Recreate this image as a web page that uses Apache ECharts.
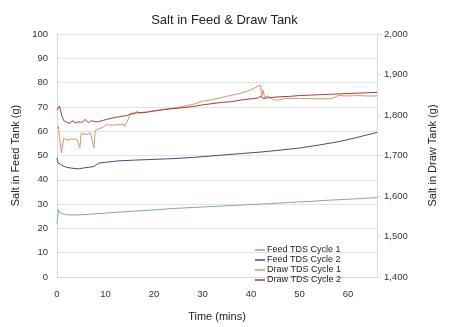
<!DOCTYPE html>
<html>
<head>
<meta charset="utf-8">
<script src="https://cdn.jsdelivr.net/npm/echarts@6/dist/echarts.min.js"></script>
<style>
  html, body { margin: 0; padding: 0; background: #fff; }
  #chart { width: 449px; height: 327px; }
</style>
</head>
<body>
<div id="chart"></div>
<script>
// feed tank, left axis (g)
var feed1Time = [0, 0.3, 0.6, 1, 1.4, 2, 3.1, 5, 8, 12, 16, 20, 24, 28, 32, 36, 40, 44, 48, 52, 56, 60, 63, 66];
var feed1Vals = [22, 27.8, 26.5, 26.2, 25.9, 25.6, 25.5, 25.6, 26, 26.6, 27.1, 27.6, 28.2, 28.6, 29, 29.4, 29.8, 30.2, 30.7, 31.1, 31.6, 32, 32.3, 32.7];

var feed2Time = [0, 0.2, 0.5, 1, 2, 3, 4.5, 5.5, 6.5, 7.6, 8.6, 10, 12.7, 16, 20, 23.7, 28, 33.6, 38, 41.9, 46, 50.1, 54, 58.4, 62, 66];
var feed2Vals = [49, 47, 46.3, 46, 45.1, 44.8, 44.5, 44.9, 45.1, 45.5, 46.9, 47.2, 47.8, 48.1, 48.4, 48.7, 49.2, 50.1, 50.8, 51.4, 52.2, 53.1, 54.3, 55.8, 57.5, 59.5];

// draw tank, right axis (g)
var draw1Time = [0, 0.3, 0.5, 0.9, 1.4, 2.1, 3, 4.1, 4.7, 5, 5.4, 6.2, 6.9, 7.6, 7.9, 9.3, 10.2, 11.5, 12.7, 13.7,
  13.9, 14.5, 15.1, 16, 16.4, 17, 18.5, 20, 22, 25, 28, 30, 32, 35, 38, 40, 42, 42.2, 42.5, 42.8,
  43.5, 44.5, 45.5, 47, 50, 53, 56, 57, 58, 60, 62, 64, 66];
var draw1Vals = [1767, 1772, 1747, 1707, 1742, 1738, 1741, 1740, 1719, 1754, 1750, 1752, 1756, 1719, 1762, 1769, 1776, 1775, 1776, 1778,
  1772, 1784, 1802, 1803, 1810, 1804, 1807, 1810, 1814, 1819, 1826, 1834, 1838, 1846, 1854, 1862, 1874, 1844, 1862, 1843,
  1847, 1838, 1836, 1841, 1841, 1840, 1840, 1842, 1848, 1847, 1848, 1847, 1847];

var draw2Time = [0, 0.5, 1, 1.4, 2, 2.6, 3.1, 3.8, 4.5, 5.2, 5.8, 6.5, 7.1, 7.6, 8.3, 9.3, 10.5, 12, 13, 14.5,
  15.5, 17, 18.5, 20, 22, 24, 26, 28, 30, 32, 34, 36, 38, 40, 41.5, 42, 42.5, 44, 46, 48,
  50, 52, 54, 56, 58, 60, 62, 64, 66];
var draw2Vals = [1812, 1822, 1798, 1786, 1782, 1779, 1786, 1781, 1783, 1782, 1789, 1781, 1786, 1784, 1783, 1786, 1790, 1794, 1796, 1799,
  1804, 1806, 1807, 1810, 1813, 1816, 1818, 1821, 1825, 1828, 1831, 1833, 1837, 1840, 1842, 1846, 1841, 1843, 1845, 1846,
  1848, 1849, 1850, 1851, 1852, 1853, 1854, 1855, 1856];

var seriesNames = ['Feed TDS Cycle 1', 'Feed TDS Cycle 2', 'Draw TDS Cycle 1', 'Draw TDS Cycle 2'];
var colors = ['#7aa8be', '#3d4f80', '#d4946e', '#a83a38'];

function pairs(t, v) {
    return t.map(function (x, i) { return [x, v[i]]; });
}

var font = 'Liberation Sans, Arial, sans-serif';
var myChart = echarts.init(document.getElementById('chart'));

var option = {
    color: colors,
    animation: false,
    title: {
        text: 'Salt in Feed & Draw Tank',
        left: 'center',
        top: 9,
        textStyle: { fontFamily: font, fontSize: 13, fontWeight: 'normal', color: '#222' }
    },
    grid: { left: 57, right: 72, top: 34, bottom: 42 },
    legend: {
        orient: 'vertical',
        left: 250,
        top: 240,
        itemWidth: 10,
        itemHeight: 1.5,
        itemGap: 0,
        icon: 'rect',
        data: seriesNames,
        textStyle: { fontFamily: font, fontSize: 9, color: '#222', lineHeight: 10, padding: [0, 0, 0, -3] }
    },
    xAxis: {
        type: 'value',
        min: 0,
        max: 66,
        interval: 10,
        name: 'Time (mins)',
        nameLocation: 'middle',
        nameGap: 34,
        nameTextStyle: { fontFamily: font, fontSize: 11, color: '#222' },
        axisLine: { lineStyle: { color: '#d9d9d9' } },
        axisTick: { show: false },
        splitLine: { show: false },
        axisLabel: { fontFamily: font, fontSize: 9.5, color: '#333', margin: 12, showMaxLabel: false }
    },
    yAxis: [{
        type: 'value',
        min: 0,
        max: 100,
        interval: 10,
        name: 'Salt in Feed Tank (g)',
        nameLocation: 'middle',
        nameRotate: 90,
        nameGap: 30,
        nameTextStyle: { fontFamily: font, fontSize: 11, color: '#222' },
        axisLine: { show: true, lineStyle: { color: '#d9d9d9' } },
        axisTick: { show: false },
        splitLine: { lineStyle: { color: '#e3e3e3' } },
        axisLabel: { fontFamily: font, fontSize: 9.5, color: '#333', margin: 9 }
    }, {
        type: 'value',
        min: 1400,
        max: 2000,
        interval: 100,
        position: 'right',
        name: 'Salt in Draw Tank (g)',
        nameLocation: 'middle',
        nameRotate: 90,
        nameGap: 50,
        nameTextStyle: { fontFamily: font, fontSize: 11, color: '#222' },
        axisLine: { show: true, lineStyle: { color: '#d9d9d9' } },
        axisTick: { show: true, length: 4, lineStyle: { color: '#d9d9d9' } },
        splitLine: { show: false },
        axisLabel: {
            fontFamily: font, fontSize: 9.5, color: '#333', margin: 7,
            formatter: function (v) { return v.toLocaleString('en-US'); }
        }
    }],
    series: [{
        name: seriesNames[0],
        type: 'line',
        yAxisIndex: 0,
        showSymbol: false,
        lineStyle: { width: 1 },
        data: pairs(feed1Time, feed1Vals)
    }, {
        name: seriesNames[1],
        type: 'line',
        yAxisIndex: 0,
        showSymbol: false,
        lineStyle: { width: 1 },
        data: pairs(feed2Time, feed2Vals)
    }, {
        name: seriesNames[2],
        type: 'line',
        yAxisIndex: 1,
        showSymbol: false,
        lineStyle: { width: 1 },
        data: pairs(draw1Time, draw1Vals)
    }, {
        name: seriesNames[3],
        type: 'line',
        yAxisIndex: 1,
        showSymbol: false,
        lineStyle: { width: 1 },
        data: pairs(draw2Time, draw2Vals)
    }]
};
myChart.setOption(option);
</script>
</body>
</html>
